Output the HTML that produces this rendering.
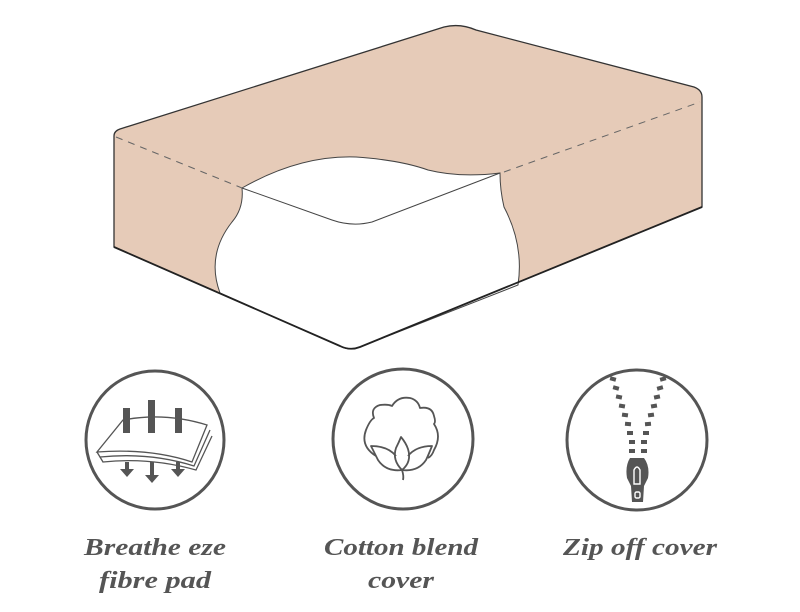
<!DOCTYPE html>
<html><head><style>html,body{margin:0;padding:0;background:#fff}svg{display:block}</style></head>
<body>
<svg width="800" height="612" viewBox="0 0 800 612" xmlns="http://www.w3.org/2000/svg">
<path d="M114,136 Q114,131 120,129 L444,27 Q460,23 476,30 L694,87 Q702,90 702,97 L702,207 L360,347 Q350,351 340,346 L114,247 Z" fill="#e6cbb8" stroke="#333" stroke-width="1.3"/>
<path d="M242,188 Q300,155 356,157 Q400,160 428,170 Q460,178 500,173 Q500,190 504,207 Q524,245 518,285 L360,347 Q350,351 340,346 L220,293 Q206,255 232,222 Q244,208 242,188 Z" fill="#fff" stroke="#444" stroke-width="1"/>
<path d="M114,247 L340,346 Q350,351 360,347 L702,207" fill="none" stroke="#222" stroke-width="1.8"/>
<path d="M242,188 L332,220 Q352,227 372,222 L500,173" fill="none" stroke="#444" stroke-width="1"/>
<path d="M116,137 L242,188" stroke="#666" stroke-width="1" stroke-dasharray="7,6" fill="none"/>
<path d="M504,172 L700,102" stroke="#666" stroke-width="1" stroke-dasharray="7,6" fill="none"/>

<g fill="none" stroke="#555" stroke-width="3">
<circle cx="155" cy="440" r="69"/>
<circle cx="403" cy="439" r="70"/>
<circle cx="637" cy="440" r="70"/>
</g>
<!-- icon1 -->
<g stroke="#555" fill="none" stroke-width="1.3">
<path d="M123,420 Q165,412 207,425 L192,462 Q150,448 97,452 Z" fill="#fff"/>
<path d="M97,452 L100,457 Q150,452 194,466 L210,430"/>
<path d="M100,457 L103,462 Q150,457 196,470 L212,436"/>
</g>
<g fill="#555">
<rect x="123" y="408" width="7" height="25"/><rect x="148" y="400" width="7" height="33"/><rect x="175" y="408" width="7" height="25"/>
<rect x="125" y="462" width="4" height="8"/><polygon points="120,469 134,469 127,477"/>
<rect x="150" y="462" width="4" height="14"/><polygon points="145,475 159,475 152,483"/>
<rect x="176" y="462" width="4" height="8"/><polygon points="171,469 185,469 178,477"/>
</g>
<!-- cotton -->
<g stroke="#555" fill="none" stroke-width="1.8" stroke-linejoin="round">
<path d="M376,456 Q360,446 366,430 Q370,420 374,418 Q370,408 380,405 Q388,404 392,406 Q398,396 410,398 Q418,400 420,408 Q432,406 434,416 Q436,422 434,424 Q442,436 434,450 Q432,456 428,458"/>
<path d="M402,470 Q404,476 403,480"/>
<path d="M402,470 Q392,460 396,448 Q399,442 401,437 Q406,443 408,449 Q412,462 402,470 Z"/>
<path d="M402,470 Q386,472 378,460 Q376,456 371,446 Q388,446 396,456"/>
<path d="M402,470 Q418,472 426,460 Q428,456 432,446 Q416,446 408,456"/>
</g>
<!-- zipper -->
<g fill="#555">
<rect x="610" y="377" width="6" height="4" transform="rotate(15 613 379)"/>
<rect x="613" y="386" width="6" height="4" transform="rotate(15 616 388)"/>
<rect x="616" y="395" width="6" height="4" transform="rotate(12 619 397)"/>
<rect x="619" y="404" width="6" height="4" transform="rotate(10 622 406)"/>
<rect x="622" y="413" width="6" height="4" transform="rotate(8 625 415)"/>
<rect x="625" y="422" width="6" height="4" transform="rotate(5 628 424)"/>
<rect x="627" y="431" width="6" height="4"/>
<rect x="629" y="440" width="6" height="4"/>
<rect x="629" y="449" width="6" height="4"/>
<rect x="660" y="377" width="6" height="4" transform="rotate(-15 663 379)"/>
<rect x="657" y="386" width="6" height="4" transform="rotate(-15 660 388)"/>
<rect x="654" y="395" width="6" height="4" transform="rotate(-12 657 397)"/>
<rect x="651" y="404" width="6" height="4" transform="rotate(-10 654 406)"/>
<rect x="648" y="413" width="6" height="4" transform="rotate(-8 651 415)"/>
<rect x="645" y="422" width="6" height="4" transform="rotate(-5 648 424)"/>
<rect x="643" y="431" width="6" height="4"/>
<rect x="641" y="440" width="6" height="4"/>
<rect x="641" y="449" width="6" height="4"/>
<path d="M630,458 L644,458 Q650,466 648,478 L644,486 L643,502 L632,502 L631,486 L627,478 Q625,466 630,458 Z"/>
</g>
<g fill="none" stroke="#fff" stroke-width="1.4">
<path d="M634,484 L634,470 Q637,464 640,470 L640,484 Z"/>
<rect x="635" y="492" width="5" height="6" rx="1.5"/>
</g>
<g font-family="'Liberation Serif',serif" font-style="italic" font-weight="bold" font-size="24" fill="#555" text-anchor="middle">
<text x="155" y="555" textLength="142" lengthAdjust="spacingAndGlyphs">Breathe eze</text>
<text x="155" y="588" textLength="112" lengthAdjust="spacingAndGlyphs">fibre pad</text>
<text x="401" y="555" textLength="154" lengthAdjust="spacingAndGlyphs">Cotton blend</text>
<text x="401" y="588" textLength="66" lengthAdjust="spacingAndGlyphs">cover</text>
<text x="640" y="555" textLength="154" lengthAdjust="spacingAndGlyphs">Zip off cover</text>
</g>
</svg>
</body></html>
